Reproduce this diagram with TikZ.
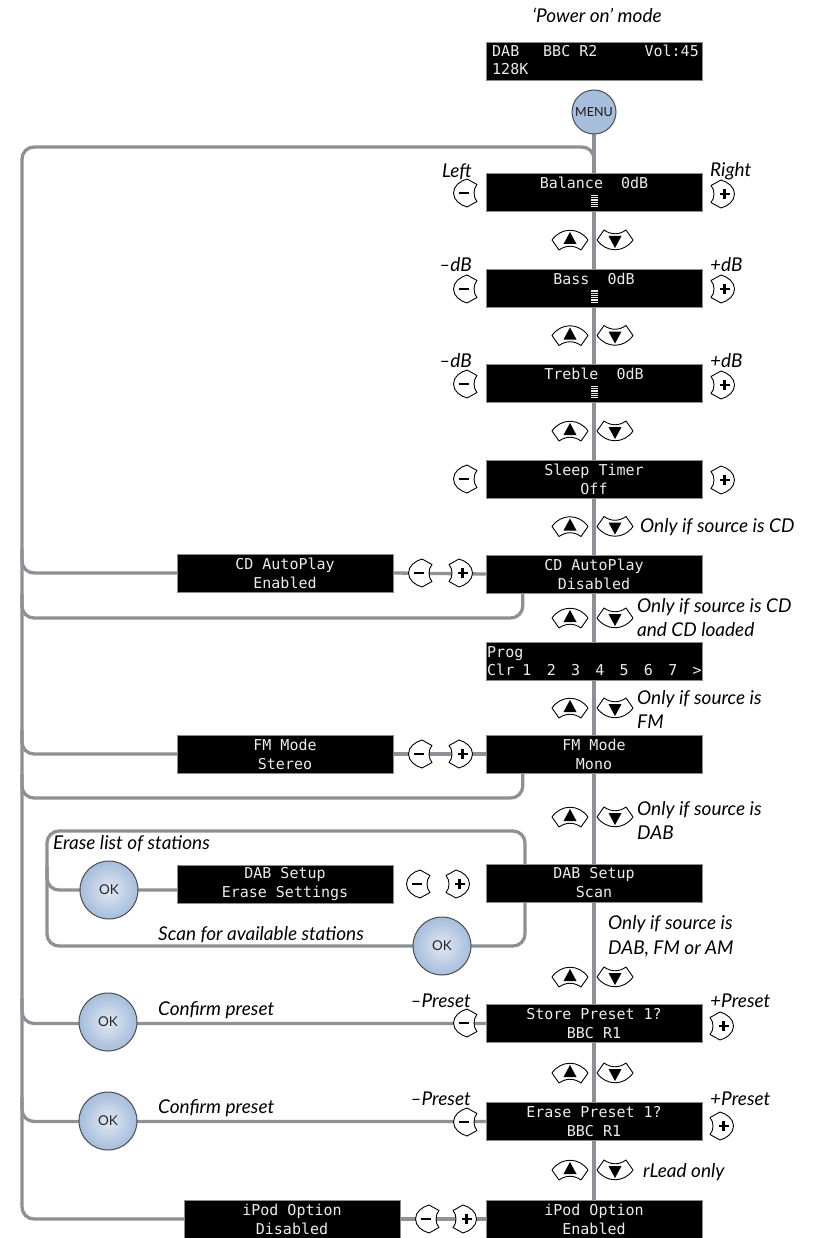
\documentclass[tikz,border=0pt]{standalone}
\usepackage{fontspec}
\setmainfont{Lato}
\newfontfamily\lcdfont{DejaVu Sans Mono}
\usetikzlibrary{calc}
\pgfdeclarelayer{bg}
\pgfsetlayers{bg,main}
\definecolor{linegray}{RGB}{142,144,149}
\definecolor{btnblue}{RGB}{166,189,220}
\definecolor{btnlight}{RGB}{224,232,243}
\definecolor{lcdwhite}{RGB}{236,236,236}
\tikzset{
  btnshape/.style={draw=black, line width=0.9pt, fill=white, line join=round},
  signline/.style={line width=2.3pt},
  minusbtn/.pic={
    \path[btnshape] (1,-14) .. controls (-6,-12) and (-12.5,-7) .. (-12.5,0)
      .. controls (-12.5,7) and (-6,12) .. (1,14) -- (11,8.5)
      .. controls (7,4) and (7,-4) .. (11,-8.5) -- cycle;
    \draw[signline] (-7.5,0) -- (2.5,0);
    \coordinate (-c) at (0,0);
  },
  plusbtn/.pic={
    \path[btnshape] (-1,-14) .. controls (6,-12) and (12.5,-7) .. (12.5,0)
      .. controls (12.5,7) and (6,12) .. (-1,14) -- (-11,8.5)
      .. controls (-7,4) and (-7,-4) .. (-11,-8.5) -- cycle;
    \draw[signline] (-2.5,0) -- (7.5,0) (2.5,-5) -- (2.5,5);
    \coordinate (-c) at (0,0);
  },
  upbtn/.pic={
    \path[btnshape] (-18,0) .. controls (-9,-13) and (9,-13) .. (18,0) -- (11,10)
      .. controls (4,5) and (-4,5) .. (-11,10) -- cycle;
    \fill (0,-8) -- (6.5,4) -- (-6.5,4) -- cycle;
    \coordinate (-c) at (0,0);
  },
  downbtn/.pic={
    \path[btnshape] (-18,0) .. controls (-9,13) and (9,13) .. (18,0) -- (11,-10)
      .. controls (4,-5) and (-4,-5) .. (-11,-10) -- cycle;
    \fill (0,8) -- (6.5,-4) -- (-6.5,-4) -- cycle;
    \coordinate (-c) at (0,0);
  },
  lcdbar/.pic={
    \foreach \i in {0,...,5} \fill[lcdwhite] (-3.5,-6.5+2.2*\i) rectangle (3.5,-5.3+2.2*\i);
    \coordinate (-c) at (0,0);
  },
}
\begin{document}
\begin{tikzpicture}[x=1pt,y=-1pt,
  conn/.style={draw=linegray, line width=3.3pt},
  lcd/.style={fill=black, draw=black!45, line width=0.5pt, minimum width=216pt,
    minimum height=38pt, inner sep=0pt, text=lcdwhite,
    font=\lcdfont\fontsize{15}{19}\selectfont, align=center},
  lcdtxt/.style={inner sep=0pt, text=lcdwhite, font=\lcdfont\fontsize{15}{19}\selectfont},
  lbl/.style={inner sep=0pt, font=\fontsize{19}{22}\selectfont\itshape},
  okbtn/.style={circle, minimum size=58pt, inner sep=0pt, draw=black!70, line width=1pt,
    inner color=btnlight, outer color=btnblue, font=\fontsize{13.5}{14}\selectfont, text=black!85},
  menubtn/.style={circle, minimum size=44pt, inner sep=0pt, draw=black!70, line width=1pt,
    fill=btnblue, font=\fontsize{12.5}{13}\selectfont, text=black!90}
]
\useasboundingbox (0,0) rectangle (812,1238);

% title and power-on display
\node[lbl, anchor=base] (title) at (597,23) {‘Power on’ mode};
\node[lcd] (disp0) at (594,61) {};
\node[lcdtxt, anchor=base west] (d0a) at (492,57) {DAB};
\node[lcdtxt, anchor=base west] (d0b) at (543,57) {BBC\ R2};
\node[lcdtxt, anchor=base east] (d0c) at (699,57) {Vol:45};
\node[lcdtxt, anchor=base west] (d0d) at (492,75) {128K};
\node[menubtn] (menu) at (594,112) {MENU};

% right column displays
\node[lcd] (bal) at (594,192.5) {Balance\ \ 0dB\\\mbox{}};
\node[lcd] (bass) at (594,288) {Bass\ \ 0dB\\\mbox{}};
\node[lcd] (treb) at (594,383.5) {Treble\ \ 0dB\\\mbox{}};
\pic (barA) at ($(bal.center)+(0,9)$) {lcdbar};
\pic (barB) at ($(bass.center)+(0,9)$) {lcdbar};
\pic (barC) at ($(treb.center)+(0,9)$) {lcdbar};
\node[lcd] (sleep) at (594,479) {Sleep\ Timer\\Off};
\node[lcd] (cdD) at (594,574) {CD\ AutoPlay\\Disabled};
\node[lcd] (prog) at (594,661) {};
\node[lcdtxt, anchor=base west] (pg1) at (487,657) {Prog};
\node[lcdtxt, anchor=base west] (pg2) at (487,675) {Clr};
\foreach \d [count=\k from 0] in {1,2,3,4,5,6,7,>}
  \node[lcdtxt, anchor=base] (pgd\k) at (527+24.3*\k,675) {\d};
\node[lcd] (fmM) at (594,754) {FM\ Mode\\Mono};
\node[lcd] (dabS) at (594,883) {DAB\ Setup\\Scan};
\node[lcd] (store) at (594,1023.5) {Store\ Preset\ 1?\\BBC\ R1};
\node[lcd] (erase) at (594,1121.5) {Erase\ Preset\ 1?\\BBC\ R1};
\node[lcd] (ipodE) at (594,1219) {iPod\ Option\\Enabled};

% left column displays
\node[lcd] (cdE) at (285,573) {CD\ AutoPlay\\Enabled};
\node[lcd] (fmS) at (285,754) {FM\ Mode\\Stereo};
\node[lcd] (dabE) at (285,884) {DAB\ Setup\\Erase\ Settings};
\node[lcd] (ipodD) at (292,1219) {iPod\ Option\\Disabled};

% OK buttons
\node[okbtn] (okE) at (109,890) {OK};
\node[okbtn] (okS) at (442,946) {OK};
\node[okbtn] (okP) at (108,1022) {OK};
\node[okbtn] (okR) at (108,1121) {OK};

% minus / plus buttons
\pic (mBal) at (466,193) {minusbtn};  \pic (pBal) at (722,194) {plusbtn};
\pic (mBas) at (466,289) {minusbtn};  \pic (pBas) at (722,289) {plusbtn};
\pic (mTre) at (466,384) {minusbtn};  \pic (pTre) at (722,385) {plusbtn};
\pic (mSlp) at (466,479) {minusbtn};  \pic (pSlp) at (722,480) {plusbtn};
\pic (mCD) at (421,573) {minusbtn};   \pic (pCD) at (460,573) {plusbtn};
\pic (mFM) at (421,754) {minusbtn};   \pic (pFM) at (460,754) {plusbtn};
\pic (mDAB) at (419,884) {minusbtn};  \pic (pDAB) at (457,884) {plusbtn};
\pic (mSt) at (466,1023) {minusbtn};  \pic (pSt) at (721,1026) {plusbtn};
\pic (mEr) at (466,1122) {minusbtn};  \pic (pEr) at (721,1126) {plusbtn};
\pic (mIP) at (428,1219) {minusbtn};  \pic (pIP) at (464,1219) {plusbtn};

% up / down buttons
\foreach \yy [count=\k] in {240,335.5,431,526.5,618,708,817,977,1073,1170}{
  \pic (up\k) at (570,\yy) {upbtn};
  \pic (dn\k) at (615,\yy) {downbtn};
}

% side labels
\node[lbl, anchor=base east] (lLeft) at (472,178) {Left};
\node[lbl, anchor=base west] (lRight) at (710,177) {Right};
\node[lbl, anchor=base east] (lBm) at (472,272) {–dB};
\node[lbl, anchor=base west] (lBp) at (710,272) {+dB};
\node[lbl, anchor=base east] (lTm) at (472,367.5) {–dB};
\node[lbl, anchor=base west] (lTp) at (710,367.5) {+dB};
\node[lbl, anchor=base east] (lSm) at (471,1007) {–Preset};
\node[lbl, anchor=base west] (lSp) at (710,1007) {+Preset};
\node[lbl, anchor=base east] (lEm) at (471,1105) {–Preset};
\node[lbl, anchor=base west] (lEp) at (710,1105) {+Preset};

% conditions
\node[lbl, anchor=base west] (c1) at (640,532) {Only if source is CD};
\node[lbl, anchor=base west] (c2a) at (637,612) {Only if source is CD};
\node[lbl, anchor=base west] (c2b) at (637,636) {and CD loaded};
\node[lbl, anchor=base west] (c3a) at (637,704) {Only if source is};
\node[lbl, anchor=base west] (c3b) at (637,728) {FM};
\node[lbl, anchor=base west] (c4a) at (637,815) {Only if source is};
\node[lbl, anchor=base west] (c4b) at (637,839) {DAB};
\node[lbl, anchor=base west] (c5a) at (608,929) {Only if source is};
\node[lbl, anchor=base west] (c5b) at (608,954) {DAB, FM or AM};
\node[lbl, anchor=base west] (c6) at (643,1177) {rLead only};

% left texts
\node[lbl, anchor=base west] (tErase) at (53,849) {Erase list of stations};
\node[lbl, anchor=base west] (tScan) at (158,940) {Scan for available stations};
\node[lbl, anchor=base west] (tConf1) at (158,1015) {Confirm preset};
\node[lbl, anchor=base west] (tConf2) at (158,1113) {Confirm preset};

% connectors
\begin{pgfonlayer}{bg}
  \draw[conn] (menu.south) -- (ipodE.north);
  \draw[conn, rounded corners=12pt] (ipodD.west) -| (22,147) -| (bal.north);
  % CD
  \draw[conn, rounded corners=12pt] (22,549) |- (cdE.west);
  \draw[conn] (cdE.east) -- (cdD.west);
  \draw[conn, rounded corners=12pt] ([xshift=37pt]cdD.south west) |- (22,618) -- (22,594);
  % FM
  \draw[conn, rounded corners=12pt] (22,730) |- (fmS.west);
  \draw[conn] (fmS.east) -- (fmM.west);
  \draw[conn, rounded corners=12pt] ([xshift=37pt]fmM.south west) |- (22,798) -- (22,774);
  % DAB loop
  \draw[conn, rounded corners=12pt] (47,831) rectangle (525,946);
  \draw[conn, rounded corners=12pt] (47,866) |- ([yshift=-6pt]dabE.west);
  % presets
  \draw[conn, rounded corners=12pt] (22,998) |- (store.west);
  \draw[conn, rounded corners=12pt] (22,1097) |- (erase.west);
  % iPod
  \draw[conn] (ipodD.east) -- (ipodE.west);
\end{pgfonlayer}
\end{tikzpicture}
\end{document}
